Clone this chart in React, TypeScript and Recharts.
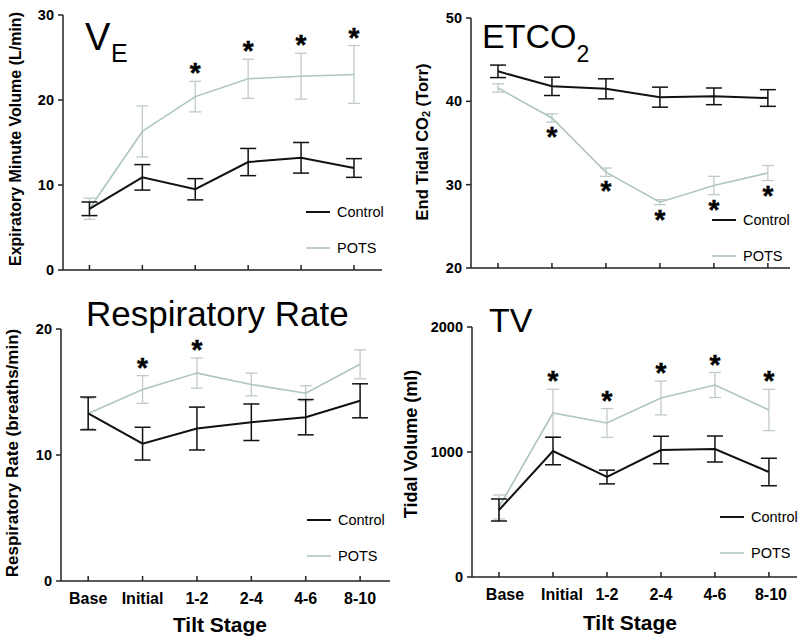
import React from 'react';
import { LineChart, Line, XAxis, YAxis, ErrorBar, Legend } from 'recharts';

const stages = ['Base', 'Initial', '1-2', '2-4', '4-6', '8-10'];

// Minute ventilation (L/min)
const veControl = [7.2, 10.9, 9.5, 12.7, 13.2, 12.0];
const veControlErr = [0.8, 1.5, 1.25, 1.6, 1.8, 1.1];
const vePots = [7.2, 16.3, 20.4, 22.5, 22.8, 23.0];
const vePotsErr = [1.25, 3.0, 1.8, 2.3, 2.7, 3.4];
const veSig = [false, false, true, true, true, true];

// End tidal CO2 (Torr)
const etControl = [43.6, 41.8, 41.5, 40.5, 40.6, 40.4];
const etControlErr = [0.75, 1.1, 1.2, 1.2, 1.0, 1.0];
const etPots = [41.6, 38.0, 31.5, 27.9, 29.9, 31.4];
const etPotsErr = [0.5, 0.5, 0.5, 0.3, 1.1, 0.9];
const etSig = [false, true, true, true, true, true];

// Respiratory rate (breaths/min)
const rrControl = [13.3, 10.9, 12.1, 12.6, 13.0, 14.3];
const rrControlErr = [1.3, 1.3, 1.7, 1.45, 1.4, 1.35];
const rrPots = [13.3, 15.2, 16.5, 15.6, 14.9, 17.2];
const rrPotsErr = [1.2, 1.1, 1.2, 0.9, 0.6, 1.15];
const rrSig = [false, true, true, false, false, false];

// Tidal volume (ml)
const tvControl = [536, 1008, 800, 1016, 1024, 840];
const tvControlErr = [88, 110, 55, 110, 104, 110];
const tvPots = [560, 1312, 1232, 1432, 1536, 1336];
const tvPotsErr = [96, 190, 115, 135, 100, 165];
const tvSig = [false, true, true, true, true, true];

const CONTROL = '#111111';
const POTS = '#afc6bd';
const POTS_ERR = '#c0cbc7';
const AXIS = '#222222';
const FONT = '"Liberation Sans", Arial, Helvetica, sans-serif';

const build = (c: number[], ce: number[], p: number[], pe: number[], sig: boolean[], dir: number) =>
  stages.map((s, i) => ({
    x: i,
    stage: s,
    control: c[i],
    controlErr: ce[i],
    pots: p[i],
    potsErr: pe[i],
    star: sig[i] ? (dir > 0 ? p[i] + pe[i] : p[i] - pe[i]) : null,
  }));

const StarDot = (props: any) => {
  const { cx, cy, value, dir, index } = props;
  if (value === null || value === undefined || cy === null || cy === undefined || isNaN(cy)) {
    return <g key={`s${index}`} />;
  }
  const y = dir > 0 ? cy + 1 : cy + 24;
  return (
    <text
      key={`s${index}`}
      x={cx}
      y={y}
      textAnchor="middle"
      fontSize={28}
      fontWeight="bold"
      fill="#000"
      stroke="#000"
      strokeWidth={0.4}
    >
      *
    </text>
  );
};

const XTick = (props: any) => {
  const { x, y, payload, showLabel, shifts } = props;
  const dx = shifts ? shifts[payload.value] || 0 : 0;
  return (
    <g>
      <line x1={x} x2={x} y1={y} y2={y - 5} stroke={AXIS} strokeWidth={1.5} />
      {showLabel ? (
        <text x={x + dx} y={y + 23} textAnchor="middle" fontSize={16} fontWeight="bold" fill="#000">
          {stages[payload.value]}
        </text>
      ) : null}
    </g>
  );
};

const LegendContent = (props: any) => {
  const payload = props.payload || [];
  const items = ['Control', 'POTS']
    .map((n) => payload.find((p: any) => p.value === n))
    .filter(Boolean);
  return (
    <svg width={100} height={56} style={{ display: 'block', overflow: 'visible' }}>
      {items.map((p: any, i: number) => (
        <g key={p.value}>
          <line
            x1={0}
            x2={24}
            y1={8 + i * 36}
            y2={8 + i * 36}
            stroke={p.color}
            strokeWidth={p.value === 'Control' ? 2 : 1.6}
          />
          <text x={31} y={8 + i * 36} dy="0.35em" fontSize={14.5} fill="#000" fontFamily={FONT}>
            {p.value}
          </text>
        </g>
      ))}
    </svg>
  );
};

type PanelProps = {
  data: any[];
  left: number;
  top: number;
  width: number;
  height: number;
  margin: { top: number; right: number; bottom: number; left: number };
  yDomain: [number, number];
  yTicks: number[];
  xMax: number;
  showLabels: boolean;
  labelShifts?: number[];
  starDir: number;
  legendLeft: number;
  legendTop: number;
};

const Panel = (p: PanelProps) => (
  <div style={{ position: 'absolute', left: p.left, top: p.top }}>
    <LineChart width={p.width} height={p.height} data={p.data} margin={p.margin}>
      <XAxis
        type="number"
        dataKey="x"
        domain={[-0.5, p.xMax]}
        ticks={[0, 1, 2, 3, 4, 5]}
        interval={0}
        allowDataOverflow
        tickLine={false}
        tickSize={0}
        tickMargin={0}
        height={p.showLabels ? 60 : 30}
        axisLine={{ stroke: AXIS, strokeWidth: 1.5 }}
        tick={<XTick showLabel={p.showLabels} shifts={p.labelShifts} />}
      />
      <YAxis
        type="number"
        domain={p.yDomain}
        ticks={p.yTicks}
        interval={0}
        allowDataOverflow
        width={40}
        tickSize={5}
        tickMargin={4}
        axisLine={{ stroke: AXIS, strokeWidth: 1.5 }}
        tickLine={{ stroke: AXIS, strokeWidth: 1.5 }}
        tick={{ fontSize: 14.5, fontWeight: 'bold', fill: '#000' }}
      />
      <Line
        dataKey="pots"
        name="POTS"
        stroke={POTS}
        strokeWidth={1.6}
        dot={false}
        activeDot={false}
        isAnimationActive={false}
      >
        <ErrorBar dataKey="potsErr" width={6} stroke={POTS_ERR} strokeWidth={1.3} isAnimationActive={false} />
      </Line>
      <Line
        dataKey="control"
        name="Control"
        stroke={CONTROL}
        strokeWidth={2}
        dot={false}
        activeDot={false}
        isAnimationActive={false}
      >
        <ErrorBar dataKey="controlErr" width={8} stroke={CONTROL} strokeWidth={1.5} isAnimationActive={false} />
      </Line>
      <Line
        dataKey="star"
        name="sig"
        stroke="none"
        legendType="none"
        dot={(dp: any) => <StarDot {...dp} dir={p.starDir} />}
        activeDot={false}
        isAnimationActive={false}
      />
      <Legend
        layout="vertical"
        align="center"
        verticalAlign="middle"
        wrapperStyle={{ left: p.legendLeft, top: p.legendTop, width: 100, height: 56 }}
        content={<LegendContent />}
      />
    </LineChart>
  </div>
);

const veData = build(veControl, veControlErr, vePots, vePotsErr, veSig, 1);
const etData = build(etControl, etControlErr, etPots, etPotsErr, etSig, -1);
const rrData = build(rrControl, rrControlErr, rrPots, rrPotsErr, rrSig, 1);
const tvData = build(tvControl, tvControlErr, tvPots, tvPotsErr, tvSig, 1);

export default function App() {
  return (
    <div
      style={{
        position: 'absolute',
        left: 0,
        top: 0,
        width: 800,
        height: 643,
        background: '#fff',
        fontFamily: FONT,
        overflow: 'hidden',
      }}
    >
      <Panel
        data={veData}
        left={0}
        top={0}
        width={400}
        height={300}
        margin={{ top: 15, right: 18, bottom: 0, left: 23 }}
        yDomain={[0, 30]}
        yTicks={[0, 10, 20, 30]}
        xMax={5.53}
        showLabels={false}
        starDir={1}
        legendLeft={306}
        legendTop={204}
      />
      <Panel
        data={etData}
        left={400}
        top={0}
        width={400}
        height={300}
        margin={{ top: 18, right: 10, bottom: 2, left: 31 }}
        yDomain={[20, 50]}
        yTicks={[20, 30, 40, 50]}
        xMax={5.41}
        showLabels={false}
        starDir={-1}
        legendLeft={312}
        legendTop={212}
      />
      <Panel
        data={rrData}
        left={0}
        top={300}
        width={400}
        height={343}
        margin={{ top: 29, right: 10, bottom: 2, left: 21 }}
        yDomain={[0, 20]}
        yTicks={[0, 10, 20]}
        xMax={5.55}
        showLabels={true}
        starDir={1}
        legendLeft={307}
        legendTop={212}
      />
      <Panel
        data={tvData}
        left={400}
        top={300}
        width={400}
        height={343}
        margin={{ top: 27, right: 3, bottom: 6, left: 32 }}
        yDomain={[0, 2000]}
        yTicks={[0, 1000, 2000]}
        xMax={5.52}
        showLabels={true}
        labelShifts={[6, 9, 0, 0, 0, 2]}
        starDir={1}
        legendLeft={320}
        legendTop={209}
      />
      <svg
        width={800}
        height={643}
        style={{ position: 'absolute', left: 0, top: 0, pointerEvents: 'none' }}
        fontFamily={FONT}
      >
        {/* Panel titles */}
        <text x={85} y={50} fontSize={38} fill="#000">V</text>
        <text x={111} y={62} fontSize={25} fill="#000">E</text>
        <text x={482} y={48} fontSize={34} fill="#000">
          ETCO<tspan fontSize={23} dy={14}>2</tspan>
        </text>
        <text x={86} y={326} fontSize={35} fill="#000">Respiratory Rate</text>
        <text x={489} y={332} fontSize={34} fill="#000">TV</text>

        {/* Y axis titles */}
        <text
          x={15}
          y={139}
          transform="rotate(-90 15 139)"
          textAnchor="middle"
          dominantBaseline="central"
          fontSize={16}
          fontWeight="bold"
          fill="#000"
        >
          Expiratory Minute Volume (L/min)
        </text>
        <text
          x={422}
          y={142}
          transform="rotate(-90 422 142)"
          textAnchor="middle"
          dominantBaseline="central"
          fontSize={16.5}
          fontWeight="bold"
          fill="#000"
        >
          End Tidal CO<tspan fontSize={11} dy={4}>2</tspan>
          <tspan dy={-4}> (Torr)</tspan>
        </text>
        <text
          x={12}
          y={453}
          transform="rotate(-90 12 453)"
          textAnchor="middle"
          dominantBaseline="central"
          fontSize={17}
          fontWeight="bold"
          fill="#000"
        >
          Respiratory Rate (breaths/min)
        </text>
        <text
          x={411}
          y={444}
          transform="rotate(-90 411 444)"
          textAnchor="middle"
          dominantBaseline="central"
          fontSize={18}
          fontWeight="bold"
          fill="#000"
        >
          Tidal Volume (ml)
        </text>

        {/* X axis titles */}
        <text x={220} y={632} textAnchor="middle" fontSize={21} fontWeight="bold" fill="#000">
          Tilt Stage
        </text>
        <text x={630} y={630} textAnchor="middle" fontSize={21} fontWeight="bold" fill="#000">
          Tilt Stage
        </text>
      </svg>
    </div>
  );
}
